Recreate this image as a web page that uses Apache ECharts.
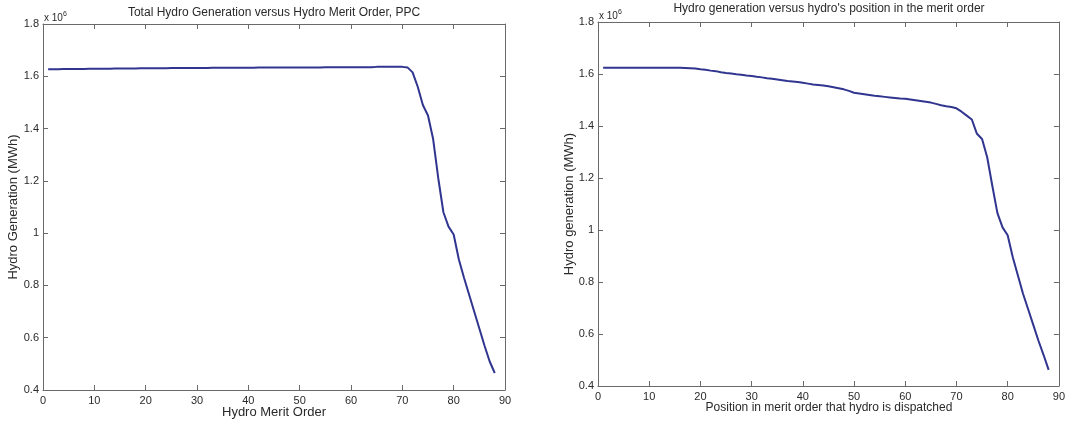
<!DOCTYPE html>
<html>
<head>
<meta charset="utf-8">
<script src="https://cdn.jsdelivr.net/npm/echarts@6/dist/echarts.min.js"></script>
<style>html,body{margin:0;padding:0;background:#fff;}#c{width:1068px;height:421px;}</style>
</head>
<body>
<div id="c"></div>
<script>
// Position in merit order (x values, both panels)
const meritPositions = [1,2,3,4,5,6,7,8,9,10,11,12,13,14,15,16,17,18,19,20,21,22,23,24,25,26,27,28,29,30,31,32,33,34,35,36,37,38,39,40,41,42,43,44,45,46,47,48,49,50,51,52,53,54,55,56,57,58,59,60,61,62,63,64,65,66,67,68,69,70,71,72,73,74,75,76,77,78,79,80,81,82,83,84,85,86,87,88];

// Left panel: Total hydro generation (x 10^6 MWh), PPC
const totalHydroPPC = [
  1.627,1.627,1.627,1.628,1.628,1.628,1.628,1.628,1.629,1.629,
  1.629,1.629,1.629,1.630,1.630,1.630,1.630,1.630,1.631,1.631,
  1.631,1.631,1.631,1.631,1.632,1.632,1.632,1.632,1.632,1.632,
  1.632,1.632,1.633,1.633,1.633,1.633,1.633,1.633,1.633,1.633,
  1.633,1.634,1.634,1.634,1.634,1.634,1.634,1.634,1.634,1.634,
  1.634,1.634,1.634,1.634,1.635,1.635,1.635,1.635,1.635,1.635,
  1.635,1.635,1.635,1.635,1.636,1.636,1.636,1.636,1.636,1.636,
  1.634,1.615,1.56,1.49,1.45,1.36,1.21,1.08,1.025,0.995,
  0.90,0.83,0.765,0.70,0.635,0.57,0.51,0.465
];

// Right panel: Hydro generation (x 10^6 MWh) vs position in merit order
const hydroByPosition = [
  1.624,1.624,1.624,1.624,1.624,1.624,1.624,1.624,1.624,1.624,
  1.624,1.624,1.624,1.624,1.624,1.624,1.623,1.622,1.621,1.618,
  1.616,1.613,1.611,1.607,1.604,1.602,1.599,1.597,1.594,1.592,
  1.589,1.587,1.584,1.582,1.579,1.576,1.573,1.571,1.569,1.566,
  1.563,1.560,1.558,1.556,1.553,1.549,1.545,1.541,1.535,1.528,
  1.525,1.522,1.519,1.516,1.514,1.512,1.510,1.508,1.506,1.505,
  1.502,1.499,1.496,1.493,1.490,1.485,1.480,1.476,1.473,1.468,
  1.455,1.44,1.425,1.37,1.35,1.28,1.17,1.065,1.01,0.98,
  0.895,0.825,0.755,0.695,0.635,0.575,0.52,0.462
];

const xTicks = [0,10,20,30,40,50,60,70,80,90];
const yTicks = [0.4,0.6,0.8,1,1.2,1.4,1.6,1.8];

const titles = ['Total Hydro Generation versus Hydro Merit Order, PPC', "Hydro generation versus hydro's position in the merit order"];
const xNames = ['Hydro Merit Order', 'Position in merit order that hydro is dispatched'];
const yNames = ['Hydro Generation (MWh)', 'Hydro generation (MWh)'];

const FONT = '"Liberation Sans", Arial, Helvetica, sans-serif';
const AX = '#6a6a6a';
const TXT = '#2a2a2a';
const LINE = '#30358f';

const grids = [
  {left: 43, top: 24, width: 462, height: 366},
  {left: 598, top: 22, width: 462, height: 364}
];

function xAx(g, pos, showLabel) {
  return {
    type: 'value', gridIndex: g, position: pos,
    min: xTicks[0], max: xTicks[xTicks.length-1], interval: 10,
    axisLine: {show: true, onZero: false, lineStyle: {color: AX, width: 1}},
    axisTick: {show: true, inside: true, length: 5, lineStyle: {color: AX}},
    axisLabel: {show: showLabel, color: TXT, fontSize: 11, fontFamily: FONT, margin: 5, showMinLabel: true, showMaxLabel: true},
    splitLine: {show: false}
  };
}
function yAx(g, pos, showLabel) {
  return {
    type: 'value', gridIndex: g, position: pos,
    min: yTicks[0], max: yTicks[yTicks.length-1], interval: 0.2,
    axisLine: {show: true, onZero: false, lineStyle: {color: AX, width: 1}},
    axisTick: {show: true, inside: true, length: 5, lineStyle: {color: AX}},
    axisLabel: {show: showLabel, color: TXT, fontSize: 11, fontFamily: FONT, margin: 4, showMinLabel: true, showMaxLabel: true,
      formatter: v => String(+(+v).toFixed(1))},
    splitLine: {show: false}
  };
}

const chart = echarts.init(document.getElementById('c'));

function centerX(g) { return grids[g].left + grids[g].width / 2; }
function centerY(g) { return grids[g].top + grids[g].height / 2; }

const graphics = [];
const titleY = [13, 9];
const xNameY = [412, 408];
const xNameSize = [13, 12];
const yNameX = [13, 569];
for (let g = 0; g < 2; g++) {
  graphics.push({type: 'text', x: centerX(g), y: titleY[g], style: {text: titles[g], align: 'center', verticalAlign: 'middle', fill: TXT, font: '12px ' + FONT}});
  graphics.push({type: 'text', x: centerX(g), y: xNameY[g], style: {text: xNames[g], align: 'center', verticalAlign: 'middle', fill: TXT, font: xNameSize[g] + 'px ' + FONT}});
  graphics.push({type: 'text', x: yNameX[g], y: centerY(g), rotation: Math.PI / 2, style: {text: yNames[g], align: 'center', verticalAlign: 'middle', fill: TXT, font: '13px ' + FONT}});
  graphics.push({type: 'text', x: grids[g].left + 1, y: grids[g].top - 6, style: {
    text: 'x 10{s|6}', align: 'left', verticalAlign: 'middle', fill: TXT, font: '10px ' + FONT,
    rich: {s: {fontSize: 7, verticalAlign: 'top', padding: [0, 0, 8, 0], fill: TXT, fontFamily: FONT}}
  }});
}

chart.setOption({
  animation: false,
  backgroundColor: '#ffffff',
  grid: grids,
  xAxis: [xAx(0, 'bottom', true), xAx(0, 'top', false), xAx(1, 'bottom', true), xAx(1, 'top', false)],
  yAxis: [yAx(0, 'left', true), yAx(0, 'right', false), yAx(1, 'left', true), yAx(1, 'right', false)],
  series: [
    {type: 'line', xAxisIndex: 0, yAxisIndex: 0, showSymbol: false, symbol: 'none',
     lineStyle: {color: LINE, width: 2}, data: meritPositions.map((x, i) => [x, totalHydroPPC[i]])},
    {type: 'line', xAxisIndex: 2, yAxisIndex: 2, showSymbol: false, symbol: 'none',
     lineStyle: {color: LINE, width: 2}, data: meritPositions.map((x, i) => [x, hydroByPosition[i]])}
  ],
  graphic: graphics
});
</script>
</body>
</html>
